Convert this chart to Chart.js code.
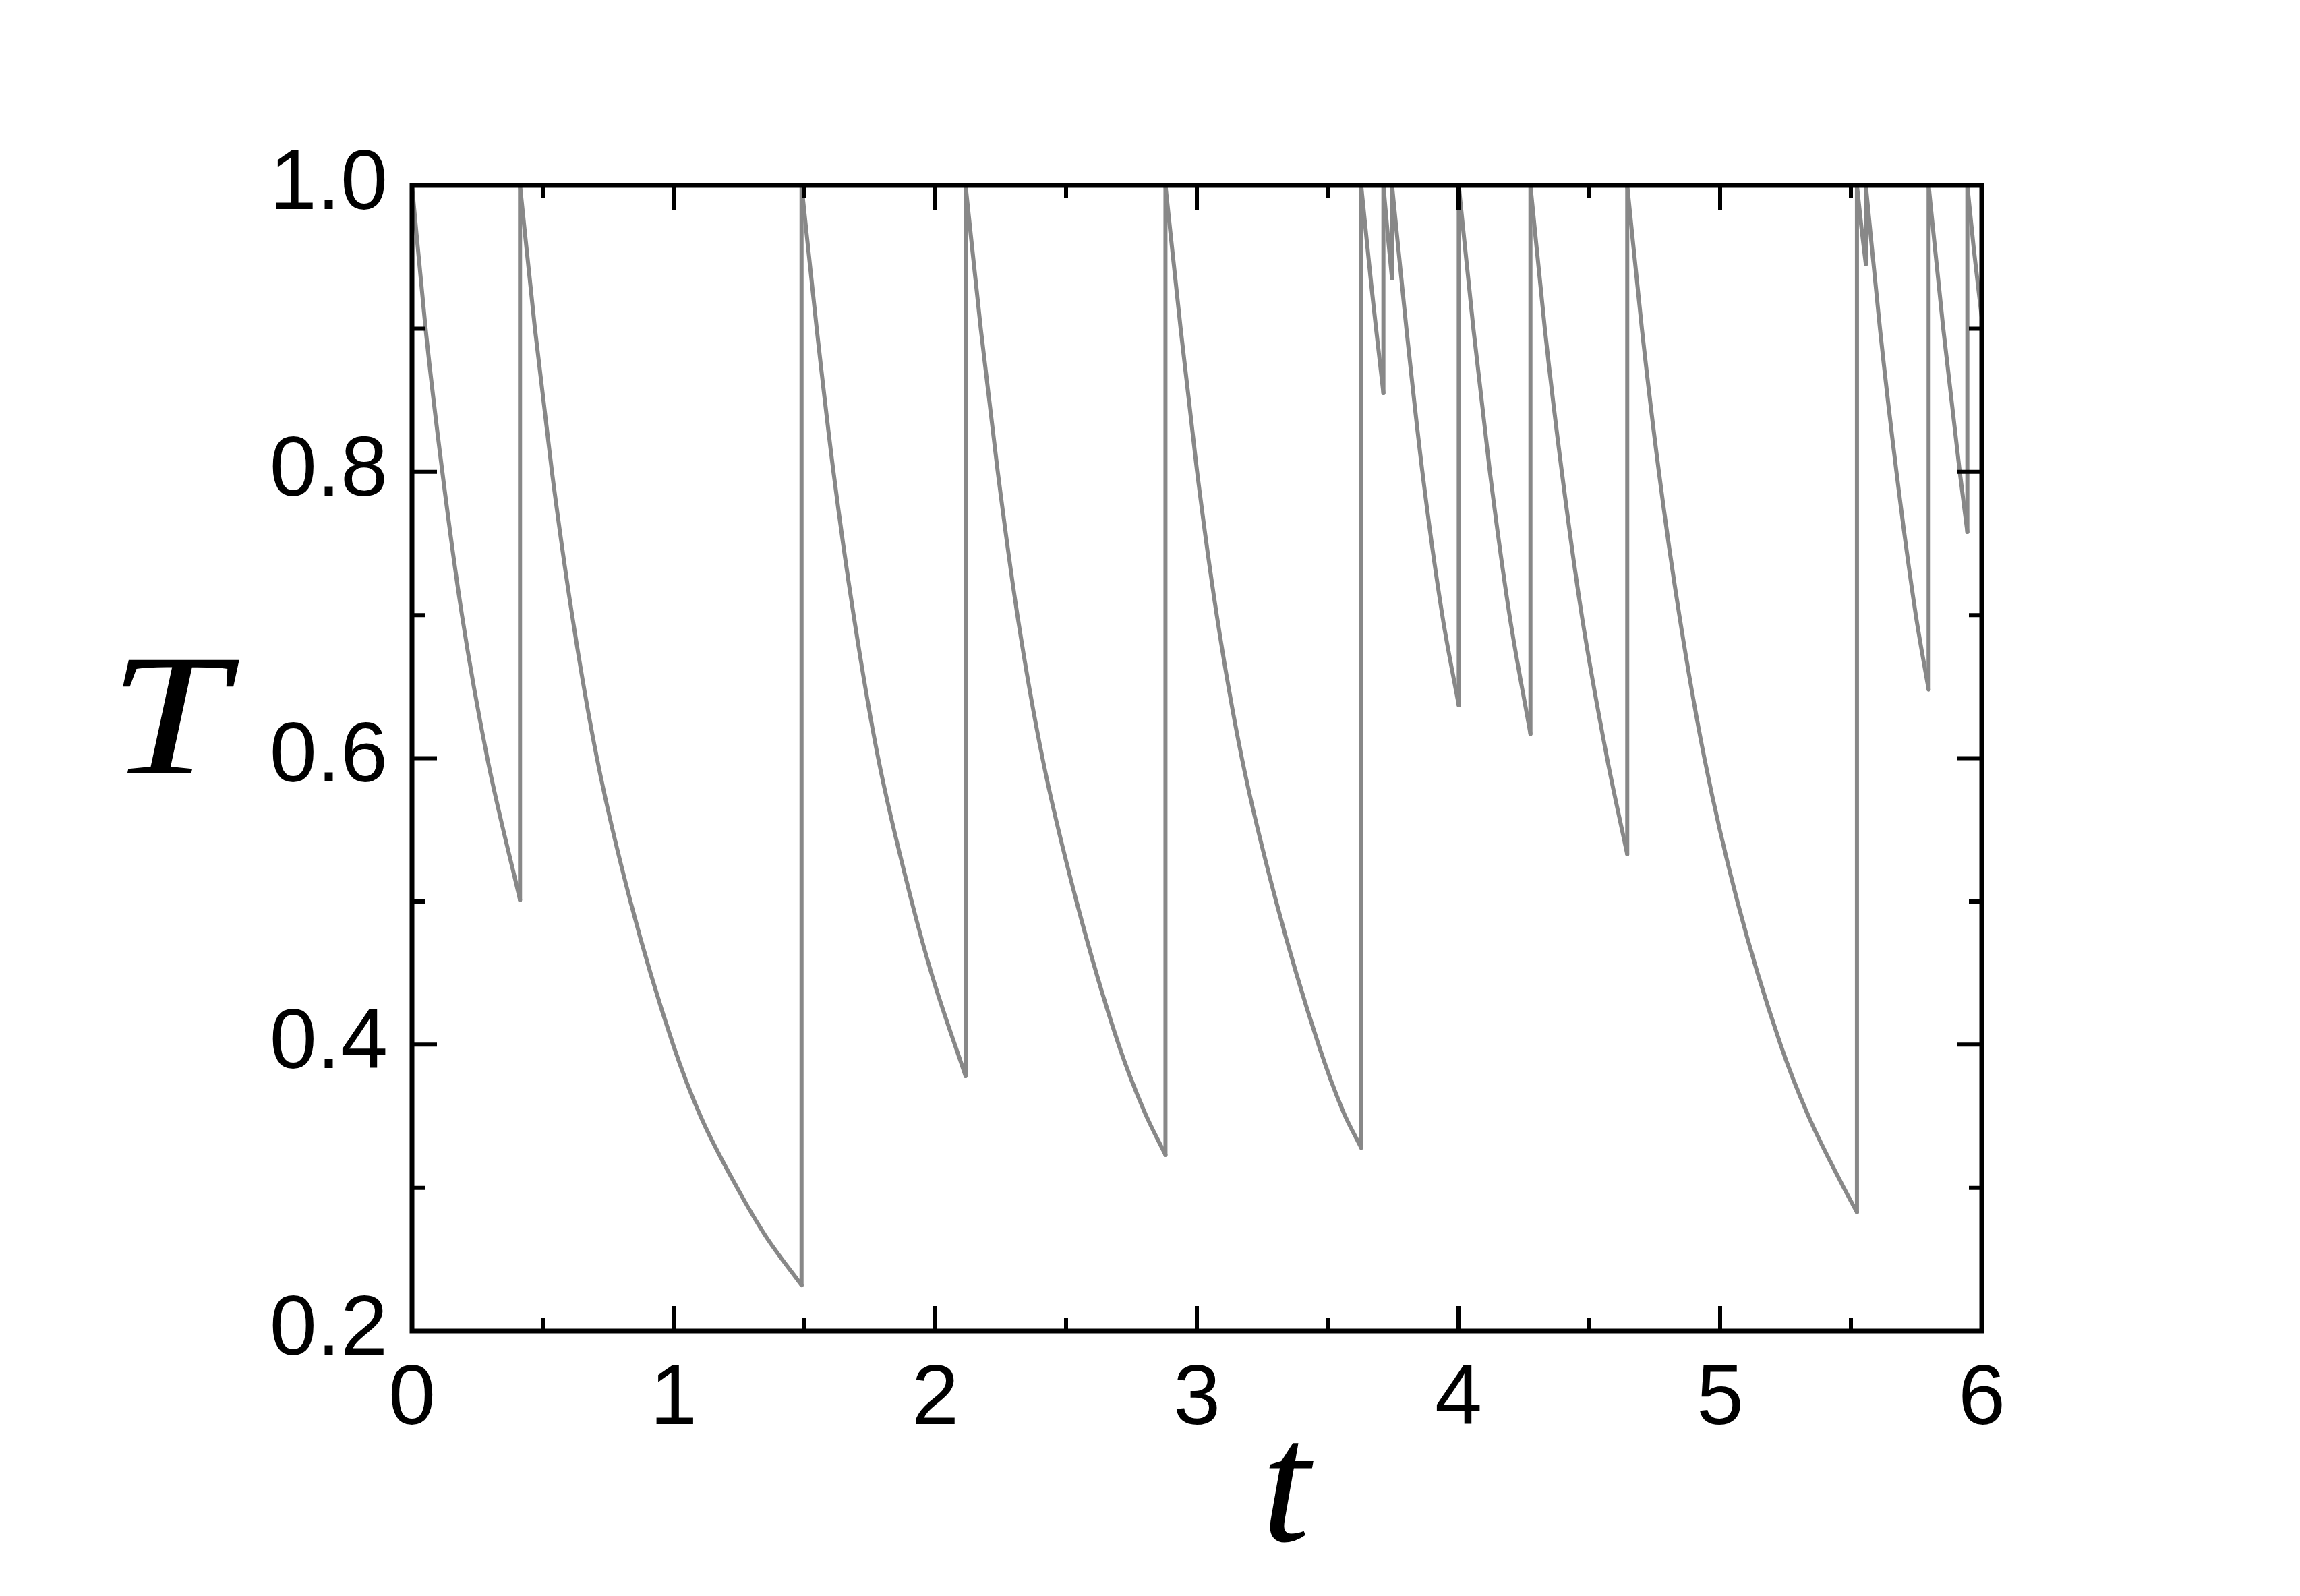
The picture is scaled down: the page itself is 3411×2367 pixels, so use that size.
<!DOCTYPE html>
<html>
<head>
<meta charset="utf-8">
<title>T vs t</title>
<script src="https://cdn.jsdelivr.net/npm/chart.js@4.4.0/dist/chart.umd.min.js"></script>
<style>
  html, body { margin: 0; padding: 0; background: #fff; }
  #chart { display: block; }
</style>
</head>
<body>
<canvas id="chart" width="3411" height="2367"></canvas>
<script>
// each decay branch as [t, T]; T is reset to 1 at the start of every branch
const decay1 = [[0, 1.0], [0.052, 0.9], [0.116, 0.8], [0.191, 0.7], [0.288, 0.6], [0.413, 0.501]];
const decay2 = [[0.413, 1.0], [0.470, 0.9], [0.535, 0.8], [0.612, 0.7], [0.707, 0.6], [0.835, 0.5], [0.998, 0.4], [1.103, 0.35], [1.243, 0.3], [1.353, 0.266], [1.489, 0.232]];
const decay3 = [[1.489, 1.0], [1.547, 0.9], [1.611, 0.8], [1.688, 0.7], [1.782, 0.6], [1.910, 0.5], [1.990, 0.447], [2.116, 0.378]];
const decay4 = [[2.116, 1.0], [2.174, 0.9], [2.239, 0.8], [2.314, 0.7], [2.410, 0.6], [2.540, 0.5], [2.701, 0.4], [2.800, 0.353], [2.880, 0.323]];
const decay5 = [[2.880, 1.0], [2.938, 0.9], [3.001, 0.8], [3.076, 0.7], [3.172, 0.6], [3.303, 0.5], [3.465, 0.4], [3.560, 0.353], [3.628, 0.328]];
const decay6 = [[3.628, 1.0], [3.667, 0.93], [3.685, 0.9], [3.713, 0.855]];
const decay7 = [[3.713, 1.0], [3.729, 0.967], [3.746, 0.935]];
const decay8 = [[3.746, 1.0], [3.801, 0.9], [3.862, 0.8], [3.938, 0.7], [4.001, 0.637]];
const decay9 = [[4.001, 1.0], [4.057, 0.9], [4.120, 0.8], [4.195, 0.7], [4.275, 0.617]];
const decay10 = [[4.275, 1.0], [4.330, 0.9], [4.395, 0.8], [4.471, 0.7], [4.568, 0.6], [4.645, 0.533]];
const decay11 = [[4.645, 1.0], [4.701, 0.9], [4.766, 0.8], [4.844, 0.7], [4.940, 0.6], [5.066, 0.5], [5.231, 0.4], [5.338, 0.35], [5.473, 0.3], [5.523, 0.283]];
const decay12 = [[5.523, 1.0], [5.540, 0.971], [5.557, 0.945]];
const decay13 = [[5.557, 1.0], [5.611, 0.9], [5.674, 0.8], [5.748, 0.7], [5.797, 0.648]];
const decay14 = [[5.797, 1.0], [5.853, 0.9], [5.916, 0.8], [5.945, 0.758]];
const decay15 = [[5.945, 1.0], [5.970, 0.955], [6.0, 0.908]];

const decays = [decay1, decay2, decay3, decay4, decay5, decay6, decay7, decay8,
    decay9, decay10, decay11, decay12, decay13, decay14, decay15];

// axis ticks
const tTicks = [0, 1, 2, 3, 4, 5, 6];
const TTicks = [0.2, 0.4, 0.6, 0.8, 1.0];

// smooth branches, with a gap (null) between them
const decayPoints = [];
decays.forEach(seg => {
    seg.forEach(p => decayPoints.push({ x: p[0], y: p[1] }));
    decayPoints.push({ x: seg[seg.length - 1][0], y: null });
});

// vertical resets from the end of one branch to the start of the next
const resetPoints = [];
for (let i = 1; i < decays.length; i++) {
    const prev = decays[i - 1][decays[i - 1].length - 1];
    const start = decays[i][0];
    resetPoints.push({ x: start[0], y: prev[1] }, { x: start[0], y: start[1] }, { x: start[0], y: null });
}

const midpoints = arr => arr.slice(1).map((v, i) => (v + arr[i]) / 2);

// box frame, inward ticks on all four sides, and the axis symbols
const framePlugin = {
    id: 'frame',
    afterDraw(chart) {
        const { ctx, chartArea: a, scales: { x, y } } = chart;
        ctx.save();
        ctx.strokeStyle = '#000';
        ctx.lineWidth = 6;
        ctx.beginPath();
        const xTick = (v, len) => {
            const px = x.getPixelForValue(v);
            ctx.moveTo(px, a.bottom); ctx.lineTo(px, a.bottom - len);
            ctx.moveTo(px, a.top); ctx.lineTo(px, a.top + len);
        };
        const yTick = (v, len) => {
            const py = y.getPixelForValue(v);
            ctx.moveTo(a.left, py); ctx.lineTo(a.left + len, py);
            ctx.moveTo(a.right, py); ctx.lineTo(a.right - len, py);
        };
        tTicks.forEach(v => xTick(v, 37));
        midpoints(tTicks).forEach(v => xTick(v, 19));
        TTicks.forEach(v => yTick(v, 37));
        midpoints(TTicks).forEach(v => yTick(v, 19));
        ctx.stroke();

        ctx.lineWidth = 7;
        ctx.strokeRect(a.left, a.top, a.width, a.height);

        ctx.fillStyle = '#000';
        ctx.font = 'italic 257px "Liberation Serif"';
        ctx.textAlign = 'center';
        ctx.textBaseline = 'alphabetic';
        // the T in the figure is a wide math italic, so stretch it a little
        ctx.save();
        ctx.translate(a.left - 362, a.top + 872);
        ctx.scale(1.22, 1);
        ctx.fillText('T', 0, 0);
        ctx.restore();
        ctx.fillText('t', a.left + 1296, a.bottom + 311);
        ctx.restore();
    }
};

const tickFont = { family: 'Liberation Sans', size: 126 };

new Chart(document.getElementById('chart'), {
    type: 'line',
    data: {
        datasets: [
            {
                label: 'T',
                data: decayPoints,
                borderColor: '#888888',
                borderWidth: 6,
                pointRadius: 0,
                cubicInterpolationMode: 'monotone',
                borderJoinStyle: 'round',
                borderCapStyle: 'round',
                spanGaps: false
            },
            {
                label: 'reset',
                data: resetPoints,
                borderColor: '#888888',
                borderWidth: 6,
                pointRadius: 0,
                tension: 0,
                borderCapStyle: 'round',
                spanGaps: false
            }
        ]
    },
    options: {
        responsive: false,
        animation: false,
        devicePixelRatio: 1,
        layout: { padding: { left: 0, top: 275, right: 472, bottom: 0 } },
        plugins: {
            legend: { display: false },
            tooltip: { enabled: false }
        },
        scales: {
            x: {
                type: 'linear',
                min: 0,
                max: 6,
                afterBuildTicks: s => { s.ticks = tTicks.map(v => ({ value: v })); },
                afterFit: s => { s.height = 393; },
                grid: { display: false, drawTicks: false, tickLength: 0 },
                border: { display: false },
                ticks: {
                    font: tickFont,
                    color: '#000',
                    padding: 28,
                    maxRotation: 0,
                    autoSkip: false,
                    callback: v => String(v)
                }
            },
            y: {
                type: 'linear',
                min: 0.2,
                max: 1.0,
                afterBuildTicks: s => { s.ticks = TTicks.map(v => ({ value: v })); },
                afterFit: s => { s.width = 611; },
                grid: { display: false, drawTicks: false, tickLength: 0 },
                border: { display: false },
                ticks: {
                    font: tickFont,
                    color: '#000',
                    padding: 36,
                    autoSkip: false,
                    callback: v => v.toFixed(1)
                }
            }
        }
    },
    plugins: [framePlugin]
});
</script>
</body>
</html>
